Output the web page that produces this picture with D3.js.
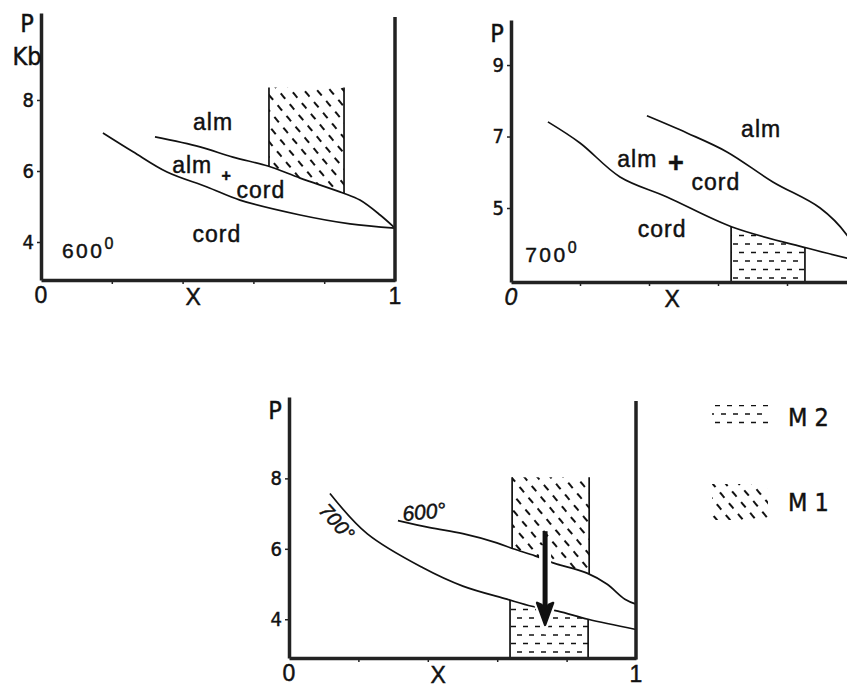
<!DOCTYPE html>
<html>
<head>
<meta charset="utf-8">
<script src="https://cdn.jsdelivr.net/npm/d3@7"></script>
<style>
body { margin: 0; background: #fff; }
svg { display: block; }
text { font-family: "Liberation Sans", Arial, sans-serif; fill: #111; stroke: #111; stroke-width: 0.45px; }
.narrow { font-family: "Liberation Sans Narrow", "DejaVu Sans Condensed", "Liberation Sans", sans-serif; }
</style>
</head>
<body>
<svg id="chart"></svg>
<script>
// composition X (0..1) vs pressure P (kb)

// 600 deg panel
var a_upper = [[0.322, 6.96], [0.449, 6.68], [0.542, 6.39], [0.641, 6.14], [0.732, 5.80], [0.853, 5.38], [0.901, 5.18], [0.958, 4.76], [1, 4.39]];
var a_lower = [[0.175, 7.07], [0.26, 6.54], [0.356, 5.97], [0.469, 5.55], [0.562, 5.18], [0.732, 4.76], [0.873, 4.51], [1, 4.39]];
// 700 deg panel
var b_upper = [[0.394, 7.58], [0.51, 7.10], [0.626, 6.57], [0.759, 5.73], [0.896, 5.00], [0.974, 4.24], [1, 3.75]];
var b_lower = [[0.107, 7.41], [0.2, 6.82], [0.316, 5.87], [0.452, 5.31], [0.641, 4.47], [0.858, 3.88], [0.974, 3.60], [1, 3.55]];
// comparison panel
var c_600 = [[0.314, 6.80], [0.406, 6.60], [0.501, 6.43], [0.599, 6.17], [0.646, 6.00], [0.709, 5.80], [0.761, 5.60], [0.859, 5.31], [0.916, 5.00], [0.968, 4.57], [1, 4.43]];
var c_700 = [[0.118, 7.57], [0.225, 6.43], [0.386, 5.46], [0.501, 4.94], [0.628, 4.57], [0.700, 4.37], [0.775, 4.23], [0.862, 4.00], [1, 3.71]];

// hatched boxes: x range and top (P) where the box is closed by a line
var a_M1 = { x0: 0.644, x1: 0.856, top: 8.35 };
var b_M2 = { x0: 0.638, x1: 0.852 };
var c_M1 = { x0: 0.643, x1: 0.865, top: 8.03 };
var c_M2 = { x0: 0.637, x1: 0.862 };

// arrow M1 -> M2
var c_arrow = { x: 0.738, from: 6.5, to: 3.84 };

var a_ticks = [4, 6, 8];
var b_ticks = [5, 7, 9];
var c_ticks = [4, 6, 8];
var x_ticks = [0.2, 0.4, 0.6, 0.8];

var a_labels = [
	{ t: "alm", x: 0.486, p: 7.16 },
	{ t: "alm", x: 0.427, p: 5.94 },
	{ t: "cord", x: 0.621, p: 5.24 },
	{ t: "cord", x: 0.497, p: 4.00 }
];
var b_labels = [
	{ t: "alm", x: 0.725, p: 6.99 },
	{ t: "alm", x: 0.366, p: 6.15 },
	{ t: "cord", x: 0.594, p: 5.50 },
	{ t: "cord", x: 0.438, p: 4.19 }
];

var width = 847,
	height = 687;

var svg = d3.select("#chart").attr("width", width).attr("height", height);
var defs = svg.append("defs");

// M1 : short "\" dashes
var pM1 = defs.append("pattern")
	.attr("id", "hatchM1")
	.attr("patternUnits", "userSpaceOnUse")
	.attr("width", 14).attr("height", 20)
	.attr("patternTransform", "rotate(50)");
pM1.append("path")
	.attr("d", "M0,5H7M7,15H14")
	.attr("stroke", "#111").attr("stroke-width", 1.8).attr("fill", "none");

// M2 : short horizontal dashes
var pM2 = defs.append("pattern")
	.attr("id", "hatchM2")
	.attr("patternUnits", "userSpaceOnUse")
	.attr("width", 12).attr("height", 17)
	.attr("y", 2);
pM2.append("path")
	.attr("d", "M1,4H6M7,12.5H12")
	.attr("stroke", "#111").attr("stroke-width", 1.7).attr("fill", "none");

var panels = [
	{ id: "a", left: 41, right: 395, top: 13, bottom: 280, pMin: 2.93, pMax: 10.45, ticks: a_ticks, border: true },
	{ id: "b", left: 511, right: 856, top: 20, bottom: 282, pMin: 2.93, pMax: 10.26, ticks: b_ticks, border: false },
	{ id: "c", left: 289, right: 636, top: 397, bottom: 658, pMin: 2.9, pMax: 10.31, ticks: c_ticks, border: true }
];

panels.forEach(function(d) {
	d.x = d3.scaleLinear().domain([0, 1]).range([d.left, d.right]);
	d.y = d3.scaleLinear().domain([d.pMin, d.pMax]).range([d.bottom, d.top]);
	d.g = svg.append("g").attr("id", "panel_" + d.id);
	d.line = d3.line()
		.x(function(p) { return d.x(p[0]); })
		.y(function(p) { return d.y(p[1]); })
		.curve(d3.curveCatmullRom);
});

var A = panels[0], B = panels[1], C = panels[2];

// clip region above / below a curve
function clipFor(panel, name, pts, above) {
	var area = d3.area()
		.x(function(p) { return panel.x(p[0]); })
		.y0(above ? panel.y(panel.pMax) : panel.y(panel.pMin))
		.y1(function(p) { return panel.y(p[1]); })
		.curve(d3.curveCatmullRom);
	defs.append("clipPath").attr("id", name)
		.append("path").attr("d", area(pts));
	return "url(#" + name + ")";
}

function hatchBox(panel, box, pattern, clip, top) {
	var g = panel.g.append("g").attr("clip-path", clip);
	var yTop = top ? panel.y(box.top) : panel.y(panel.pMax);
	g.append("rect")
		.attr("x", panel.x(box.x0))
		.attr("y", yTop)
		.attr("width", panel.x(box.x1) - panel.x(box.x0))
		.attr("height", panel.y(panel.pMin) - yTop)
		.attr("fill", "url(#" + pattern + ")");
	g.selectAll("line.edge")
		.data([box.x0, box.x1])
		.enter().append("line")
		.attr("class", "edge")
		.attr("x1", function(v) { return panel.x(v); })
		.attr("x2", function(v) { return panel.x(v); })
		.attr("y1", yTop)
		.attr("y2", panel.y(panel.pMin))
		.attr("stroke", "#111").attr("stroke-width", 1.7);
}

hatchBox(A, a_M1, "hatchM1", clipFor(A, "clipA", a_upper, true), true);
hatchBox(B, b_M2, "hatchM2", clipFor(B, "clipB", b_lower, false), false);
hatchBox(C, c_M1, "hatchM1", clipFor(C, "clipC1", c_600, true), true);
hatchBox(C, c_M2, "hatchM2", clipFor(C, "clipC2", c_700, false), false);

// curves
[[A, a_upper], [A, a_lower], [B, b_upper], [B, b_lower], [C, c_600], [C, c_700]].forEach(function(c) {
	c[0].g.append("path")
		.attr("d", c[0].line(c[1]))
		.attr("fill", "none")
		.attr("stroke", "#111")
		.attr("stroke-width", 1.7);
});

// axes
panels.forEach(function(d) {
	var ya = d.g.append("g")
		.attr("transform", "translate(" + d.left + ",0)")
		.call(d3.axisLeft(d.y).tickValues(d.ticks).tickSize(4).tickSizeOuter(0).tickPadding(3));
	ya.attr("font-size", 20);
	ya.select(".domain").attr("stroke", "#222").attr("stroke-width", 3.5);
	ya.selectAll(".tick line").attr("stroke", "#222").attr("stroke-width", 1.5);
	ya.selectAll(".tick text")
		.attr("class", "narrow")
		.style("font-size", "20px")
		.attr("fill", "#111");

	var xa = d.g.append("g")
		.attr("transform", "translate(0," + d.bottom + ")")
		.call(d3.axisBottom(d.x).tickValues(x_ticks).tickSize(4).tickSizeOuter(0).tickFormat(""));
	xa.select(".domain").attr("stroke", "#222").attr("stroke-width", 3.5);
	xa.selectAll(".tick line").attr("stroke", "#222").attr("stroke-width", 1.5);

	if (d.border) {
		d.g.append("line")
			.attr("x1", d.x(1)).attr("x2", d.x(1))
			.attr("y1", d.y(d.pMax) + 4).attr("y2", d.bottom + 1.5)
			.attr("stroke", "#222").attr("stroke-width", 3.5);
	}

	// 0, X, 1 under the axis
	var xl = d.g.append("g").attr("class", "narrow").style("font-size", "23px").attr("text-anchor", "middle");
	xl.append("text").attr("x", d.x(0)).attr("y", d.bottom + 23)
		.style("font-style", d.id == "b" ? "italic" : "normal").text("0");
	xl.append("text").attr("x", d.x(d.id == "b" ? 0.467 : 0.43)).attr("y", d.bottom + 25).text("X");
	if (d.border) xl.append("text").attr("x", d.x(1)).attr("y", d.bottom + 24).text("1");

	d.g.append("text").attr("class", "narrow")
		.attr("x", d.left - 14).attr("y", d.top + (d.id == "a" ? 19 : 22))
		.attr("text-anchor", "middle")
		.style("font-size", "25px").text("P");
});

A.g.append("text").attr("class", "narrow")
	.attr("x", A.left - 14).attr("y", A.top + 52)
	.attr("text-anchor", "middle")
	.style("font-size", "25px").text("Kb");

// region labels
function regionLabels(panel, labels) {
	panel.g.selectAll("text.region")
		.data(labels)
		.enter().append("text")
		.attr("class", "region")
		.attr("x", function(l) { return panel.x(l.x); })
		.attr("y", function(l) { return panel.y(l.p); })
		.attr("text-anchor", "middle")
		.style("font-size", "23px")
		.style("letter-spacing", "1px")
		.text(function(l) { return l.t; });
}
regionLabels(A, a_labels);
regionLabels(B, b_labels);

A.g.append("text").attr("x", A.x(0.523)).attr("y", A.y(5.89)).attr("dy", "0.35em")
	.attr("text-anchor", "middle").style("font-size", "16px").style("font-weight", "bold").text("+");
B.g.append("text").attr("x", B.x(0.478)).attr("y", B.y(6.26)).attr("dy", "0.35em")
	.attr("text-anchor", "middle").style("font-size", "27px").style("font-weight", "bold").text("+");

// temperatures
function tempLabel(panel, t, x, p) {
	var txt = panel.g.append("text")
		.attr("x", panel.x(x)).attr("y", panel.y(p))
		.style("font-size", "21px").style("letter-spacing", "2.5px");
	txt.append("tspan").text(t);
	txt.append("tspan").attr("dy", -9).style("font-size", "16px").text("0");
}
tempLabel(A, "600", 0.059, 3.55);
tempLabel(B, "700", 0.041, 3.49);

// comparison panel: curve names written on the curves
C.g.append("text")
	.attr("transform", "translate(" + C.x(0.138) + "," + C.y(6.76) + ") rotate(48)")
	.attr("text-anchor", "middle").attr("dy", "0.35em")
	.style("font-size", "20px").style("font-style", "italic")
	.text("700°");
C.g.append("text")
	.attr("transform", "translate(" + C.x(0.329) + "," + C.y(6.78) + ") rotate(-6)")
	.style("font-size", "21px").style("font-style", "italic")
	.text("600°");

// arrow M1 -> M2, with a white gap around it
var ax = C.x(c_arrow.x), ay0 = C.y(c_arrow.from), ay1 = C.y(c_arrow.to);
var head = "M" + (ax - 8) + "," + (ay1 - 22) + "L" + ax + "," + ay1 + "L" + (ax + 8) + "," + (ay1 - 22) +
	"L" + (ax + 3.5) + "," + (ay1 - 20) + "L" + ax + "," + (ay1 - 11) + "L" + (ax - 3.5) + "," + (ay1 - 20) + "Z";
C.g.append("line")
	.attr("x1", ax).attr("x2", ax).attr("y1", ay0 + 14).attr("y2", ay1 - 14)
	.attr("stroke", "#fff").attr("stroke-width", 12);
C.g.append("path").attr("d", head).attr("fill", "#fff").attr("stroke", "#fff").attr("stroke-width", 7);
C.g.append("line")
	.attr("x1", ax).attr("x2", ax).attr("y1", ay0).attr("y2", ay1 - 12)
	.attr("stroke", "#111").attr("stroke-width", 5);
C.g.append("path").attr("d", head).attr("fill", "#111").attr("stroke", "#111").attr("stroke-width", 2.5).attr("stroke-linejoin", "round");

// legend
var legend = svg.append("g").attr("id", "legend");
var legendItems = [{ name: "M 2", pattern: "hatchM2", h: 24 }, { name: "M 1", pattern: "hatchM1", h: 36 }];
legendItems.forEach(function(l, i) {
	var cy = 417 + i * 85;
	legend.append("rect")
		.attr("x", 712).attr("y", cy - l.h / 2)
		.attr("width", 56).attr("height", l.h)
		.attr("fill", "url(#" + l.pattern + ")");
	legend.append("text").attr("class", "narrow")
		.attr("x", 788).attr("y", cy + 9)
		.style("font-size", "25px")
		.text(l.name);
});
</script>
</body>
</html>
